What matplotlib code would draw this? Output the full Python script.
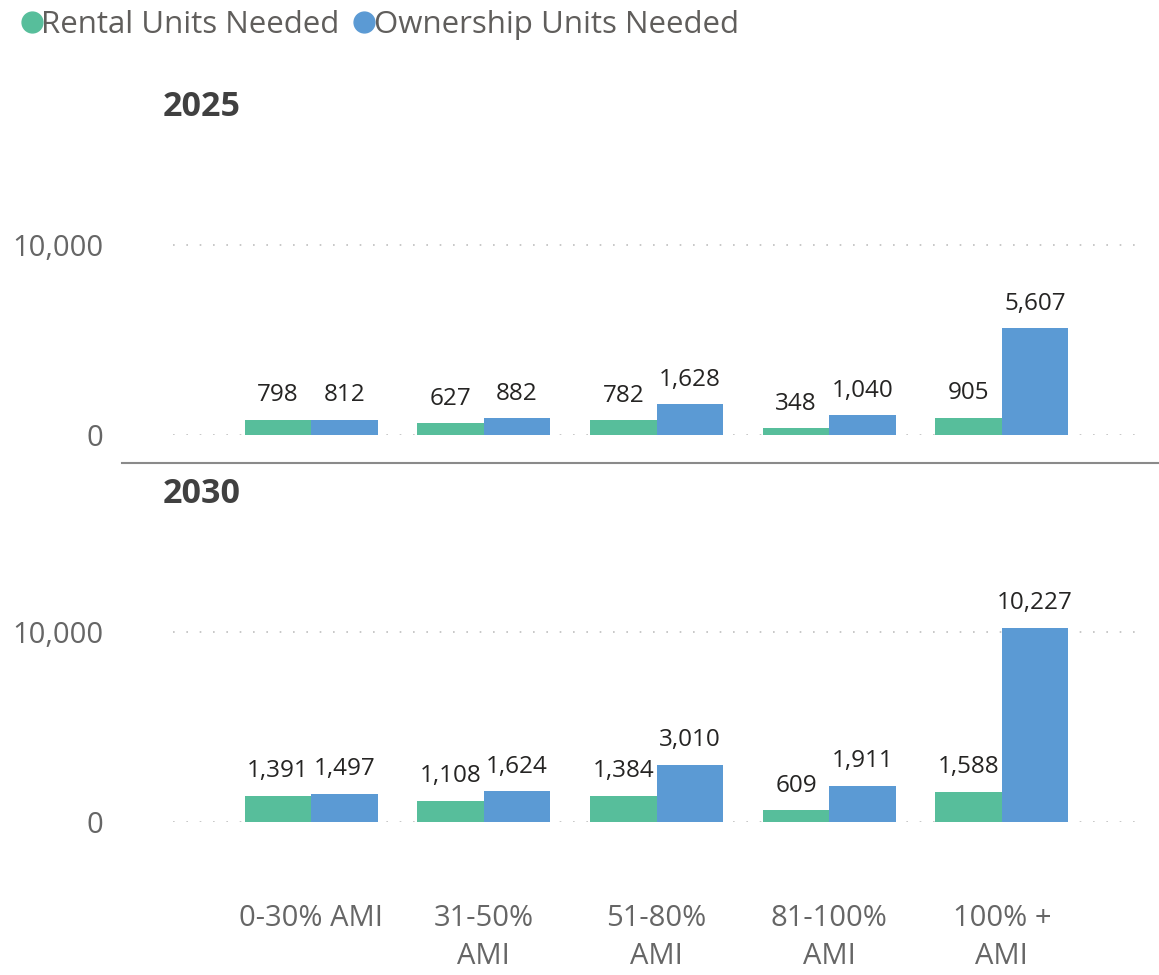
import matplotlib.pyplot as plt
from matplotlib.lines import Line2D

plt.rcParams['font.family'] = ['Open Sans', 'DejaVu Sans']

categories = ['0-30% AMI', '31-50%\nAMI', '51-80%\nAMI', '81-100%\nAMI', '100% +\nAMI']
years = ['2025', '2030']
rental = {'2025': [798, 627, 782, 348, 905],
          '2030': [1391, 1108, 1384, 609, 1588]}
ownership = {'2025': [812, 882, 1628, 1040, 5607],
             '2030': [1497, 1624, 3010, 1911, 10227]}

green = '#57BE9B'
blue = '#5B9AD4'
grey = '#666666'

fig = plt.figure(figsize=(11.59, 9.75), dpi=100)
W, H = 1159, 975

def px_axes(left, top, right, bottom):
    return fig.add_axes([left / W, 1 - bottom / H, (right - left) / W, (bottom - top) / H])

panels = [(years[0], 140, 435), (years[1], 527, 822)]
w = 0.385
x = list(range(len(categories)))

for i, (yr, top, bottom) in enumerate(panels):
    ax = px_axes(173, top, 1140, bottom)
    ax.bar([v - w / 2 for v in x], rental[yr], width=w, color=green)
    ax.bar([v + w / 2 for v in x], ownership[yr], width=w, color=blue)
    for v, r, o in zip(x, rental[yr], ownership[yr]):
        ax.annotate(f'{r:,}', (v - w / 2, r), xytext=(0, 9), textcoords='offset points',
                    ha='center', va='bottom', fontsize=17.5, color='#252423')
        ax.annotate(f'{o:,}', (v + w / 2, o), xytext=(0, 9), textcoords='offset points',
                    ha='center', va='bottom', fontsize=17.5, color='#252423')
    ax.set_xlim(-0.8, 4.8)
    ax.set_ylim(0, 10000 * (bottom - top) / 190)
    ax.set_yticks([0, 10000])
    ax.set_yticklabels(['0', '10,000'])
    ax.tick_params(axis='y', length=0, pad=50, labelsize=21, labelcolor=grey)
    ax.yaxis.grid(True, color='#bfbfbf', linestyle=(0, (1, 7)), linewidth=1.2)
    ax.set_axisbelow(True)
    for s in ax.spines.values():
        s.set_visible(False)
    if i == 1:
        ax.set_xticks(x)
        ax.set_xticklabels(categories, linespacing=1.4)
        ax.tick_params(axis='x', length=0, pad=59, labelsize=21, labelcolor=grey)
    else:
        ax.set_xticks([])
    fig.text(163 / W, 1 - (top - 33) / H, yr, fontsize=24.5, fontweight='bold',
             color='#404040', ha='left', va='center')

# separator between panels
fig.add_artist(Line2D([122 / W, 1.0], [1 - 463 / H, 1 - 463 / H], color='#8a8a8a', linewidth=1.5))

handles = [Line2D([], [], marker='o', linestyle='', markersize=15, color=green),
           Line2D([], [], marker='o', linestyle='', markersize=15, color=blue)]
leg = fig.legend(handles, ['Rental Units Needed', 'Ownership Units Needed'], loc='upper left',
                 bbox_to_anchor=(0.003, 1.003), ncol=2, frameon=False, fontsize=22.5,
                 handletextpad=-0.2, columnspacing=0.3, handlelength=1.0, borderaxespad=0)
for t in leg.get_texts():
    t.set_color('#605E5C')

fig.savefig('out.png', dpi=100)
